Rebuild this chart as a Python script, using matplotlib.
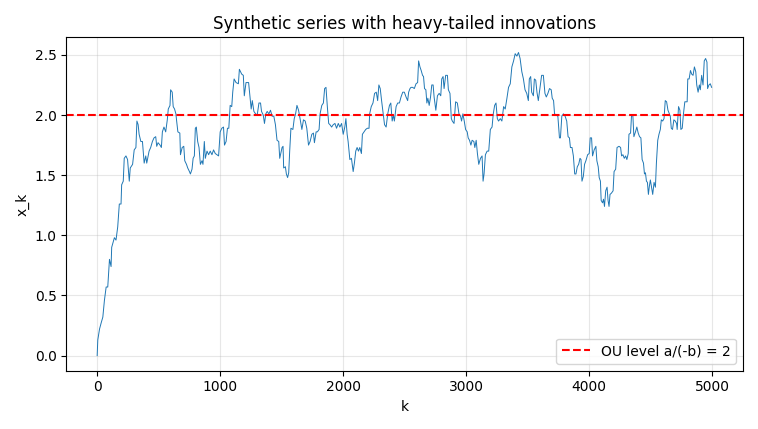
import matplotlib
matplotlib.use("Agg")
import matplotlib.pyplot as plt
import numpy as np

# values (k, x_k), in segments
k_seg1 = [0, 5, 19, 32, 46, 59, 73, 86, 100, 113, 118, 140, 153, 167, 180, 194, 199, 212, 220,
          234, 247, 261, 269, 288, 301, 315, 323, 333, 341, 355, 368, 382, 395, 403, 422, 435,
          449, 462, 476, 484, 495, 511, 522, 530, 543, 557, 570, 578, 592, 597, 610, 618, 629,
          640, 645, 656, 672, 677, 691, 704, 712, 726, 736, 750, 758, 771, 780, 790, 798, 806,
          817, 828, 839, 852, 860, 871, 879, 893, 906, 919, 933, 946, 960, 973, 987, 1000,
          1013, 1027, 1035, 1048, 1059, 1070, 1081, 1094, 1102, 1113, 1129, 1148, 1156, 1175,
          1188, 1196, 1210]
xk_seg1 = [0.00, 0.13, 0.22, 0.27, 0.32, 0.46, 0.57, 0.57, 0.80, 0.74, 0.90, 0.98, 0.96, 1.07,
           1.26, 1.26, 1.42, 1.45, 1.64, 1.66, 1.63, 1.45, 1.56, 1.59, 1.71, 1.73, 1.95, 1.92,
           1.84, 1.78, 1.78, 1.60, 1.66, 1.60, 1.70, 1.73, 1.78, 1.81, 1.82, 1.74, 1.77, 1.75,
           1.73, 1.86, 1.90, 1.86, 1.96, 2.05, 2.08, 2.21, 2.19, 2.07, 2.05, 2.01, 1.96, 1.86,
           1.85, 1.67, 1.73, 1.74, 1.62, 1.59, 1.56, 1.53, 1.51, 1.55, 1.64, 1.66, 1.89, 1.90,
           1.78, 1.73, 1.59, 1.62, 1.59, 1.78, 1.64, 1.70, 1.67, 1.70, 1.67, 1.71, 1.68, 1.67,
           1.66, 1.86, 1.89, 1.90, 1.75, 1.78, 1.89, 1.89, 2.08, 2.07, 2.19, 2.30, 2.27, 2.26,
           2.38, 2.34, 2.33, 2.16, 2.27]

k_seg2 = [1231, 1242, 1252, 1261, 1274, 1288, 1301, 1315, 1328, 1336, 1350, 1360, 1371, 1382,
          1396, 1409, 1422, 1436, 1449, 1462, 1476, 1484, 1503, 1511, 1516, 1530, 1538, 1548,
          1557, 1565, 1575, 1591, 1602, 1613, 1624, 1637, 1651, 1664, 1677, 1691, 1704, 1718,
          1731, 1745, 1758, 1766, 1780, 1790, 1804, 1812, 1826, 1839, 1849, 1860, 1871, 1882,
          1892, 1906, 1919, 1933, 1946, 1960, 1973, 1987, 2000, 2013, 2022, 2032, 2040, 2054,
          2067, 2081, 2091, 2102, 2113, 2124, 2135, 2148, 2156, 2169, 2183, 2196, 2210, 2215,
          2228, 2242, 2255, 2269, 2280, 2290, 2301, 2312, 2323, 2336]
xk_seg2 = [2.27, 2.15, 2.05, 2.12, 2.03, 2.01, 2.00, 2.10, 2.10, 2.03, 2.00, 1.93, 2.01, 2.03,
           2.01, 2.04, 1.99, 1.99, 1.92, 1.79, 1.78, 1.64, 1.73, 1.74, 1.56, 1.57, 1.51, 1.48,
           1.52, 1.70, 1.89, 1.88, 1.97, 2.01, 2.08, 2.04, 1.96, 1.88, 1.96, 1.95, 1.89, 1.75,
           1.78, 1.84, 1.85, 1.77, 1.86, 1.86, 1.88, 2.01, 2.08, 2.10, 2.22, 2.23, 2.07, 1.93,
           1.92, 1.90, 1.92, 1.93, 1.89, 1.93, 1.90, 1.93, 1.84, 1.90, 1.97, 1.84, 1.78, 1.63,
           1.64, 1.53, 1.60, 1.70, 1.73, 1.70, 1.73, 1.68, 1.84, 1.86, 1.88, 1.89, 1.89, 2.01,
           2.07, 2.10, 2.18, 2.19, 2.12, 2.25, 2.22, 2.12, 2.03, 1.92]

k_seg3 = [2349, 2362, 2376, 2387, 2398, 2408, 2416, 2430, 2443, 2457, 2470, 2484, 2497, 2511,
          2524, 2532, 2543, 2551, 2565, 2578, 2592, 2605, 2613, 2624, 2634, 2645, 2653, 2661,
          2672, 2680, 2688, 2699, 2710, 2720, 2731, 2739, 2753, 2766, 2780, 2793, 2801, 2812,
          2820, 2833, 2847, 2855, 2868, 2879, 2887, 2901, 2914, 2928, 2941, 2954, 2962, 2973,
          2984, 2995, 3008, 3016, 3027, 3038, 3048, 3062, 3070, 3081, 3091, 3102, 3116, 3129,
          3137, 3145, 3156, 3170, 3183, 3196, 3210, 3220, 3231, 3242, 3253, 3263, 3277, 3290,
          3304, 3317, 3331, 3344, 3358, 3371, 3385, 3398, 3412, 3425, 3438, 3452, 3465, 3478,
          3492, 3505, 3513, 3524, 3532, 3546, 3554, 3565, 3575, 3586, 3600, 3613, 3627, 3640]
xk_seg3 = [1.90, 2.01, 2.08, 2.10, 1.95, 2.00, 1.95, 2.07, 2.10, 2.10, 2.15, 2.19, 2.19, 2.15,
           2.12, 2.19, 2.22, 2.23, 2.23, 2.22, 2.26, 2.27, 2.45, 2.40, 2.37, 2.33, 2.32, 2.22,
           2.21, 2.10, 2.14, 2.08, 2.15, 2.25, 2.25, 2.15, 2.04, 2.16, 2.18, 2.16, 2.30, 2.32,
           2.22, 2.33, 2.33, 2.21, 2.18, 1.97, 1.95, 1.93, 2.11, 2.10, 2.01, 1.99, 1.95, 2.01,
           1.95, 1.88, 1.86, 1.81, 1.79, 1.75, 1.79, 1.78, 1.73, 1.79, 1.68, 1.59, 1.64, 1.66,
           1.45, 1.51, 1.67, 1.70, 1.70, 1.88, 1.90, 2.01, 2.08, 2.10, 1.97, 1.95, 1.97, 1.95,
           2.07, 2.05, 2.14, 2.23, 2.26, 2.40, 2.45, 2.51, 2.49, 2.52, 2.47, 2.36, 2.30, 2.21,
           2.18, 2.12, 2.30, 2.32, 2.19, 2.16, 2.30, 2.29, 2.19, 2.12, 2.23, 2.33, 2.33, 2.18]

k_seg4 = [3651, 3664, 3677, 3691, 3699, 3710, 3718, 3731, 3745, 3758, 3766, 3777, 3790, 3804,
          3817, 3828, 3839, 3847, 3860, 3871, 3882, 3892, 3903, 3914, 3925, 3933, 3941, 3952,
          3962, 3973, 3987, 4000, 4008, 4019, 4027, 4040, 4054, 4062, 4073, 4081, 4091, 4097,
          4108, 4116, 4124, 4134, 4145, 4153, 4161, 4169, 4180, 4194, 4202, 4215, 4226, 4242,
          4255, 4263, 4274, 4285, 4296, 4306, 4317, 4323, 4336, 4344, 4355, 4363, 4376, 4387,
          4398, 4409, 4420, 4430, 4441, 4449, 4457, 4465, 4473, 4481, 4489, 4497, 4505, 4516,
          4527, 4538, 4546, 4557, 4567, 4578, 4586, 4597, 4608, 4618, 4629, 4640, 4651, 4659,
          4667, 4677, 4688, 4699, 4710, 4715, 4726, 4737, 4745, 4756, 4766, 4777, 4788, 4796,
          4801, 4812, 4823, 4833, 4844, 4855, 4866, 4874, 4885, 4895, 4903, 4914, 4925, 4935,
          4946, 4957, 4962, 4973, 4984, 4995]
xk_seg4 = [2.15, 2.18, 2.22, 2.21, 2.14, 2.12, 2.01, 2.00, 1.99, 1.81, 1.81, 1.99, 2.01, 1.99,
           1.95, 1.82, 1.81, 1.73, 1.73, 1.66, 1.51, 1.51, 1.57, 1.59, 1.64, 1.63, 1.45, 1.49,
           1.59, 1.62, 1.67, 1.68, 1.81, 1.81, 1.66, 1.71, 1.74, 1.62, 1.57, 1.48, 1.45, 1.29,
           1.27, 1.30, 1.24, 1.37, 1.40, 1.29, 1.24, 1.34, 1.35, 1.37, 1.53, 1.55, 1.73, 1.74,
           1.73, 1.66, 1.67, 1.64, 1.66, 1.63, 1.68, 1.84, 1.85, 2.00, 1.99, 1.82, 1.86, 1.90,
           1.85, 1.82, 1.81, 1.63, 1.60, 1.51, 1.52, 1.45, 1.44, 1.34, 1.41, 1.46, 1.41, 1.34,
           1.44, 1.40, 1.60, 1.79, 1.84, 1.88, 1.96, 1.95, 1.97, 2.12, 2.11, 2.04, 2.01, 1.99,
           1.89, 1.88, 1.96, 1.95, 1.93, 1.88, 2.07, 2.04, 1.88, 1.89, 2.01, 2.11, 2.11, 2.11,
           2.30, 2.30, 2.37, 2.34, 2.33, 2.40, 2.36, 2.25, 2.19, 2.25, 2.21, 2.33, 2.25, 2.45,
           2.47, 2.44, 2.22, 2.25, 2.26, 2.23]

ou_level = 2.0

k = np.array(k_seg1 + k_seg2 + k_seg3 + k_seg4)
xk = np.array(xk_seg1 + xk_seg2 + xk_seg3 + xk_seg4)

fig, ax = plt.subplots(figsize=(7.58, 4.29), dpi=100)
ax.plot(k, xk, color='#1f77b4', linewidth=0.7)
ax.axhline(ou_level, color='red', linestyle='--', linewidth=1.5, label='OU level a/(-b) = 2')
ax.set_xlim(-250, 5250)
ax.set_title('Synthetic series with heavy-tailed innovations')
ax.set_xlabel('k')
ax.set_ylabel('x_k')
ax.grid(True, alpha=0.3)
ax.legend(loc='lower right')

plt.tight_layout()
plt.savefig('out.png', dpi=100)
plt.close()
